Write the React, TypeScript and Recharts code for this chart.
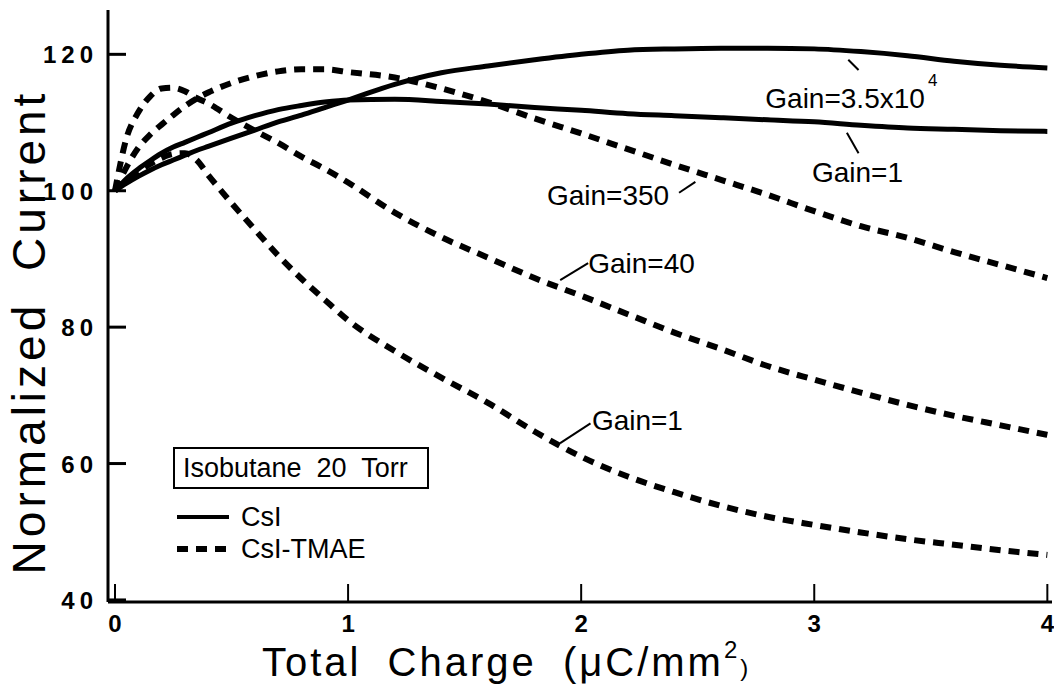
import React from 'react';
import { LineChart, Line, XAxis, YAxis, ReferenceLine, ReferenceDot, Legend } from 'recharts';

const FONT = "'Liberation Sans', Arial, Helvetica, sans-serif";

// Total charge (µC/mm²)
const charge = [0, 0.05, 0.1, 0.15, 0.2, 0.25, 0.3, 0.35, 0.4, 0.5, 0.6, 0.7, 0.8, 0.9, 1.0, 1.2, 1.4, 1.6, 1.8, 2.0, 2.2, 2.4, 2.6, 2.8, 3.0, 3.2, 3.4, 3.6, 3.8, 4.0];

// CsI (solid)
const csiGain1 = [100, 101.8, 103.2, 104.4, 105.5, 106.4, 107.1, 107.8, 108.5, 109.9, 111.0, 111.9, 112.5, 113.0, 113.3, 113.4, 113.1, 112.7, 112.2, 111.8, 111.3, 111.0, 110.7, 110.4, 110.1, 109.6, 109.2, 109.0, 108.8, 108.7];
const csiGain35e4 = [100, 101.1, 102.1, 103.0, 103.8, 104.5, 105.2, 105.9, 106.5, 107.7, 108.9, 110.1, 111.1, 112.2, 113.3, 115.6, 117.3, 118.3, 119.2, 120.0, 120.6, 120.8, 120.9, 120.9, 120.8, 120.4, 119.8, 119.0, 118.4, 118.0];

// CsI-TMAE (dashed)
const tmaeGain350 = [100, 103.5, 106.3, 108.2, 109.7, 111.1, 112.4, 113.5, 114.4, 115.8, 116.8, 117.5, 117.8, 117.8, 117.4, 116.6, 115.0, 113.0, 110.6, 108.4, 106.1, 103.8, 101.6, 99.4, 97.0, 94.8, 93.1, 91.0, 89.1, 87.2];
const tmaeGain40 = [100, 107.8, 111.5, 113.8, 115.0, 115.1, 114.6, 113.6, 112.8, 110.7, 108.8, 107.0, 105.0, 103.2, 101.2, 96.8, 93.2, 90.2, 87.2, 84.6, 81.9, 79.2, 76.8, 74.3, 72.3, 70.4, 68.6, 67.0, 65.6, 64.2];
const tmaeGain1 = [100, 101.5, 102.8, 103.9, 104.8, 105.4, 105.5, 104.5, 102.3, 98.2, 94.3, 90.5, 87.1, 84.0, 81.0, 76.5, 72.6, 68.9, 64.7, 61.0, 58.1, 55.8, 53.8, 52.2, 51.0, 49.9, 48.9, 48.1, 47.3, 46.6];

const xTicks = [0, 1, 2, 3, 4];
const yTicks = [40, 60, 80, 100, 120];

const legendTitle = 'Isobutane  20  Torr';
const legendItems = [
  { label: 'CsI', dashed: false },
  { label: 'CsI-TMAE', dashed: true },
];

// annotation labels (data coordinates)
const labelX = [2.79, 2.99, 1.853, 2.03, 2.046];
const labelY = [112.1, 101.3, 97.9, 87.9, 64.9];
const labelText = ['Gain=3.5x10', 'Gain=1', 'Gain=350', 'Gain=40', 'Gain=1'];
const labelSup = ['4', '', '', '', ''];

// leader lines (data coordinates)
const leaderX1 = [3.146, 3.14, 2.42, 1.91, 1.91];
const leaderY1 = [119.2, 108.5, 99.7, 86.9, 63.0];
const leaderX2 = [3.19, 3.19, 2.49, 2.03, 2.04];
const leaderY2 = [117.7, 105.5, 101.3, 89.4, 65.9];

const data = charge.map((x, i) => ({
  x,
  csiGain1: csiGain1[i],
  csiGain35e4: csiGain35e4[i],
  tmaeGain350: tmaeGain350[i],
  tmaeGain40: tmaeGain40[i],
  tmaeGain1: tmaeGain1[i],
}));

const LeftTick = (props: any) => {
  const { x, y, payload } = props;
  return (
    <g>
      <line x1={x} y1={y} x2={x + 18} y2={y} stroke="#000" strokeWidth={3} />
      <text x={x - 10} y={y + 9} textAnchor="end" fontSize={24} fontWeight="bold" fontFamily={FONT} letterSpacing={5} fill="#000">
        {payload.value}
      </text>
    </g>
  );
};

const RightTick = (props: any) => {
  const { x, y } = props;
  return <line x1={x} y1={y} x2={x - 18} y2={y} stroke="#000" strokeWidth={3} />;
};

const BottomTick = (props: any) => {
  const { x, y, payload } = props;
  return (
    <g>
      <line x1={x} y1={y} x2={x} y2={y - 18} stroke="#000" strokeWidth={2} />
      <text x={x} y={y + 30} textAnchor="middle" fontSize={24} fontWeight="bold" fontFamily={FONT} fill="#000">
        {payload.value}
      </text>
    </g>
  );
};

const TopTick = (props: any) => {
  const { x, y } = props;
  return <line x1={x} y1={y} x2={x} y2={y + 18} stroke="#000" strokeWidth={2} />;
};

const XLabel = () => (
  <text x={262} y={676} fontSize={40} fontFamily={FONT} fill="#000" letterSpacing={3} style={{ wordSpacing: 12 }}>
    <tspan>Total Charge (μC/mm</tspan>
    <tspan dy={-18} fontSize={24}>2</tspan>
    <tspan dy={18} fontSize={24}>)</tspan>
  </text>
);

const YLabel = () => (
  <text
    transform="translate(45,332) rotate(-90)"
    x={0}
    y={0}
    textAnchor="middle"
    fontSize={46}
    fontFamily={FONT}
    fill="#000"
    letterSpacing={4}
    style={{ wordSpacing: 14 }}
  >
    Normalized Current
  </text>
);

const LegendBox = () => (
  <div style={{ fontFamily: FONT, color: '#000' }}>
    <div
      style={{
        border: '2px solid #000',
        width: 244,
        height: 38,
        boxSizing: 'content-box',
        fontSize: 27,
        lineHeight: '38px',
        paddingLeft: 8,
        whiteSpace: 'pre',
      }}
    >
      {legendTitle}
    </div>
    {legendItems.map((it, i) => (
      <div key={i} style={{ display: 'flex', alignItems: 'center', height: 32, marginTop: i === 0 ? 12 : 0, marginLeft: 4 }}>
        <svg width={56} height={10} style={{ display: 'block' }}>
          <line x1={0} y1={5} x2={52} y2={5} stroke="#000" strokeWidth={it.dashed ? 6 : 4} strokeDasharray={it.dashed ? '11 8' : undefined} />
        </svg>
        <span style={{ fontSize: 27, marginLeft: 8 }}>{it.label}</span>
      </div>
    ))}
  </div>
);

const AnnotationText = (text: string, sup: string) => (p: any) => (
  <text x={p.cx} y={p.cy} fontSize={28} fontFamily={FONT} fill="#000">
    {text}
    {sup ? (
      <tspan dy={-22} dx={3} fontSize={17}>
        {sup}
      </tspan>
    ) : null}
  </text>
);

export default function App() {
  return (
    <div style={{ position: 'absolute', left: 0, top: 0, width: 1054, height: 684, background: '#fff' }}>
      <LineChart width={1054} height={684} data={data} margin={{ top: 10, right: 2, bottom: 0, left: 0 }}>
        <XAxis
          dataKey="x"
          type="number"
          domain={[-0.03, 4.02]}
          allowDataOverflow
          ticks={xTicks}
          tickSize={0}
          tickMargin={0}
          tickLine={false}
          tick={<BottomTick />}
          height={82}
          axisLine={{ stroke: '#000', strokeWidth: 3 }}
          label={{ content: () => <XLabel /> }}
        />
        <XAxis
          xAxisId="top"
          orientation="top"
          dataKey="x"
          type="number"
          domain={[-0.03, 4.02]}
          allowDataOverflow
          ticks={xTicks}
          tickSize={0}
          tickMargin={0}
          tickLine={false}
          tick={<TopTick />}
          height={0}
          axisLine={{ stroke: '#000', strokeWidth: 2 }}
        />
        <YAxis
          type="number"
          domain={[39.7, 126.5]}
          allowDataOverflow
          ticks={yTicks}
          tickSize={0}
          tickMargin={0}
          tickLine={false}
          tick={<LeftTick />}
          width={108}
          axisLine={{ stroke: '#000', strokeWidth: 3 }}
          label={{ content: () => <YLabel /> }}
        />
        <YAxis
          yAxisId="right"
          orientation="right"
          type="number"
          domain={[39.7, 126.5]}
          allowDataOverflow
          ticks={yTicks}
          tickSize={0}
          tickMargin={0}
          tickLine={false}
          tick={<RightTick />}
          width={0}
          axisLine={{ stroke: '#000', strokeWidth: 2 }}
        />
        <Legend
          layout="vertical"
          align="center"
          verticalAlign="middle"
          wrapperStyle={{ left: 173, top: 447, width: 280 }}
          content={() => <LegendBox />}
        />
        <Line type="monotone" dataKey="csiGain35e4" stroke="#000" strokeWidth={5} dot={false} isAnimationActive={false} />
        <Line type="monotone" dataKey="csiGain1" stroke="#000" strokeWidth={5} dot={false} isAnimationActive={false} />
        <Line type="monotone" dataKey="tmaeGain350" stroke="#000" strokeWidth={6} strokeDasharray="11 8" dot={false} isAnimationActive={false} />
        <Line type="monotone" dataKey="tmaeGain40" stroke="#000" strokeWidth={6} strokeDasharray="11 8" dot={false} isAnimationActive={false} />
        <Line type="monotone" dataKey="tmaeGain1" stroke="#000" strokeWidth={6} strokeDasharray="11 8" dot={false} isAnimationActive={false} />
        {labelX.map((lx, i) => (
          <ReferenceLine
            key={'l' + i}
            segment={[
              { x: leaderX1[i], y: leaderY1[i] },
              { x: leaderX2[i], y: leaderY2[i] },
            ]}
            stroke="#000"
            strokeWidth={2}
          />
        ))}
        {labelX.map((lx, i) => (
          <ReferenceDot key={'t' + i} x={lx} y={labelY[i]} r={0} shape={AnnotationText(labelText[i], labelSup[i])} />
        ))}
      </LineChart>
    </div>
  );
}
